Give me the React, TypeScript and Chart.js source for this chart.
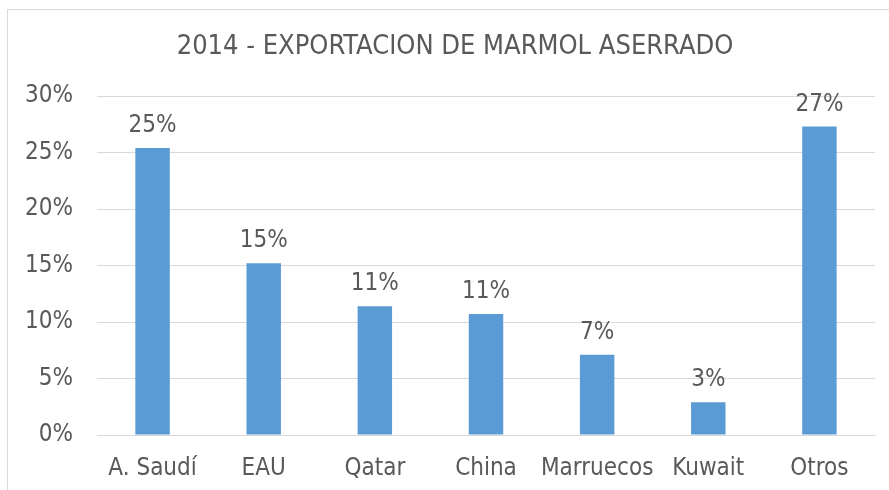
import React, { useEffect, useRef } from "react";
import { Chart, registerables } from "chart.js";

Chart.register(...registerables);

const categories = ["A. Saudí", "EAU", "Qatar", "China", "Marruecos", "Kuwait", "Otros"];
const shares = [25.4, 15.2, 11.4, 10.7, 7.1, 2.9, 27.3];
const valueLabels = ["25%", "15%", "11%", "11%", "7%", "3%", "27%"];
const yTicks = [0, 5, 10, 15, 20, 25, 30];
const titleText = "2014 - EXPORTACION DE MARMOL ASERRADO";

const FONT = "'DejaVu Sans Condensed', 'DejaVu Sans', sans-serif";
const TEXT = "#595959";

export default function App() {
  const ref = useRef<HTMLCanvasElement | null>(null);
  useEffect(() => {
    if (!ref.current) return;
    const labelPlugin = {
      id: "valueLabels",
      afterDatasetsDraw(chart: any) {
        const ctx = chart.ctx;
        const meta = chart.getDatasetMeta(0);
        ctx.save();
        ctx.font = `24px ${FONT}`;
        ctx.fillStyle = TEXT;
        ctx.textAlign = "center";
        ctx.textBaseline = "alphabetic";
        meta.data.forEach((bar: any, i: number) => {
          ctx.fillText(valueLabels[i], bar.x, bar.y - 16);
        });
        ctx.restore();
      },
    };
    const titlePlugin = {
      id: "centeredTitle",
      afterDraw(chart: any) {
        const ctx = chart.ctx;
        ctx.save();
        ctx.font = `27px ${FONT}`;
        ctx.fillStyle = TEXT;
        ctx.textAlign = "center";
        ctx.textBaseline = "middle";
        ctx.fillText(titleText, 455, 47);
        ctx.restore();
      },
    };
    const chart = new Chart(ref.current, {
      type: "bar",
      data: {
        labels: categories,
        datasets: [
          {
            data: shares,
            backgroundColor: "#5B9BD5",
            borderWidth: 0,
            categoryPercentage: 1,
            barPercentage: 0.31,
          },
        ],
      },
      options: {
        animation: false,
        responsive: false,
        maintainAspectRatio: false,
        layout: { padding: { left: 0, right: 14, top: 96, bottom: 0 } },
        plugins: {
          legend: { display: false },
          tooltip: { enabled: false },
          title: { display: false },
        },
        scales: {
          x: {
            grid: { display: false, drawTicks: false },
            border: { display: true, color: "#d9d9d9", width: 1 },
            ticks: { color: TEXT, font: { family: FONT, size: 24 }, padding: 19, maxRotation: 0, autoSkip: false },
            afterFit: (s: any) => { s.height = 55; },
          },
          y: {
            min: 0,
            max: 30,
            afterBuildTicks: (s: any) => { s.ticks = yTicks.map((v) => ({ value: v })); },
            grid: { color: "#d9d9d9", drawTicks: false },
            border: { display: false },
            ticks: {
              color: TEXT,
              font: { family: FONT, size: 24 },
              padding: 24,
              callback: (v: any) => `${v}%`,
            },
            afterFit: (s: any) => { s.width = 97; },
          },
        },
      },
      plugins: [labelPlugin, titlePlugin],
    });
    return () => chart.destroy();
  }, []);

  return (
    <div style={{ position: "fixed", left: 0, top: 0, width: 889, height: 490, overflow: "hidden", background: "#fff" }}>
      <div style={{ position: "absolute", left: 7, top: 9, width: 920, height: 520, border: "1px solid #d9d9d9", boxSizing: "border-box" }} />
      <canvas ref={ref} width={889} height={490} style={{ position: "absolute", left: 0, top: 0 }} />
    </div>
  );
}
